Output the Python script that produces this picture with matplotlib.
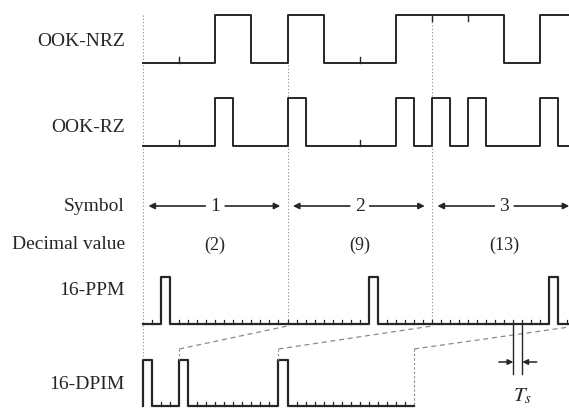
import numpy as np
import matplotlib
matplotlib.use("Agg")
import matplotlib.pyplot as plt

plt.rcParams['font.family'] = ['Liberation Serif', 'DejaVu Serif']
plt.rcParams['mathtext.fontset'] = 'stix'

# data
symbols = ['1', '2', '3']
decimal_values = [2, 9, 13]
ook_bits = [0, 0, 1, 0, 1, 0, 0, 1, 1, 1, 0, 1]
ppm_slots = [2, 9, 13]          # pulse slot inside each 16-slot symbol
dpim_empty = [2, 9, 13]         # empty slots after each DPIM pulse
row_labels = ['OOK-NRZ', 'OOK-RZ', 'Symbol', 'Decimal value', '16-PPM', '16-DPIM']

L = 16                # slots per symbol
BIT = 4               # slots per bit
slot_px = 144.5 / L   # layout: slot width in pixels
x0_px = 143

# layout (pixel rows, axis y inverted)
nrz_hi, nrz_lo = 16, 64
rz_hi, rz_lo = 99, 147
ppm_hi, ppm_lo = 278, 325
dp_hi, dp_lo = 361, 407
sym_y, dec_y = 207, 245
label_y = [42, 128, 207, 245, 291, 385]

ink = '#262626'
grey = '#8a8a8a'

fig = plt.figure(figsize=(5.69, 4.10), dpi=100)
ax = fig.add_axes([0, 0, 1, 1])
ax.set_xlim(-x0_px / slot_px, (569 - x0_px) / slot_px)
ax.set_ylim(410, 0)
ax.axis('off')

n_sym = len(decimal_values)
end = n_sym * L

# symbol boundaries (dotted)
for k in range(n_sym):
    bottom = 357 if k == 0 else ppm_lo
    ax.plot([k * L, k * L], [16, bottom], ls=(0, (1, 2)), color=grey, lw=0.8)

# OOK-NRZ
xb = np.arange(len(ook_bits) + 1) * BIT
yb = [nrz_hi if b else nrz_lo for b in ook_bits]
ax.step(xb, yb + [yb[-1]], where='post', color=ink, lw=1.4)
for i in range(1, len(ook_bits)):
    if ook_bits[i] == ook_bits[i - 1]:
        if ook_bits[i]:
            ax.plot([i * BIT] * 2, [nrz_hi, nrz_hi + 6], color=ink, lw=1.0)
        else:
            ax.plot([i * BIT] * 2, [nrz_lo, nrz_lo - 6], color=ink, lw=1.0)

# OOK-RZ
rz = []
for b in ook_bits:
    rz += [rz_hi if b else rz_lo, rz_lo]
xr = np.arange(len(rz) + 1) * BIT / 2
ax.step(xr, rz + [rz[-1]], where='post', color=ink, lw=1.4)
for i in range(1, len(ook_bits)):
    if ook_bits[i] == 0 and ook_bits[i - 1] == 0:
        ax.plot([i * BIT] * 2, [rz_lo, rz_lo - 6], color=ink, lw=1.0)

# symbol arrows and decimal values
for k, (s, v) in enumerate(zip(symbols, decimal_values)):
    c = k * L + 8
    ax.text(c, sym_y, s, ha='center', va='center', fontsize=14, color=ink)
    ax.text(c, dec_y, '(%d)' % v, ha='center', va='center', fontsize=13, color=ink)
    for a, b in [(c - 1.1, k * L + 0.6), (c + 1.1, k * L + 15.2)]:
        ax.annotate('', xy=(b, sym_y), xytext=(a, sym_y),
                    arrowprops=dict(arrowstyle='-|>', color=ink, lw=1.2,
                                    mutation_scale=9, shrinkA=0, shrinkB=0))

# 16-PPM
ppm = np.zeros(end, dtype=int)
for k, v in enumerate(ppm_slots):
    ppm[k * L + v] = 1
yp = [ppm_hi if p else ppm_lo for p in ppm]
xs = np.arange(end + 1)
ax.step(xs, yp + [yp[-1]], where='post', color=ink, lw=1.6)
for i in range(1, end):
    if ppm[i] == 0 and ppm[i - 1] == 0:
        ax.plot([i, i], [ppm_lo, ppm_lo - 4], color=ink, lw=0.9)

# 16-DPIM (pulse + guard slot + value empty slots)
dpim = []
starts = []
for v in dpim_empty:
    starts.append(len(dpim))
    dpim += [1] + [0] * (v + 1)
yd = [dp_hi if p else dp_lo for p in dpim]
xd = np.concatenate([[0], np.arange(len(dpim) + 1)])
ax.step(xd, [dp_lo] + yd + [yd[-1]], where='post', color=ink, lw=1.6)
for i in range(1, len(dpim)):
    if dpim[i] == 0 and dpim[i - 1] == 0:
        ax.plot([i, i], [dp_lo, dp_lo - 4], color=ink, lw=0.9)

# dashed links DPIM symbol start -> PPM symbol start
link_from = starts[1:] + [len(dpim)]
for k, s0 in enumerate(link_from):
    ax.plot([s0, (k + 1) * L], [350, ppm_lo + 2], ls=(0, (4, 3)), color=grey, lw=0.9)
    low = dp_lo if k == len(link_from) - 1 else dp_hi
    ax.plot([s0, s0], [350, low], ls=(0, (2, 2)), color=grey, lw=0.8)

# T_s marker (one slot)
ts = ppm_slots[-1] - 4 + 2 * L
for xx in (ts, ts + 1):
    ax.plot([xx, xx], [ppm_lo, 375], color=ink, lw=1.0)
ax.annotate('', xy=(ts, 363), xytext=(ts - 1.6, 363),
            arrowprops=dict(arrowstyle='-|>', color=ink, lw=1.1, mutation_scale=8,
                            shrinkA=0, shrinkB=0))
ax.annotate('', xy=(ts + 1, 363), xytext=(ts + 2.6, 363),
            arrowprops=dict(arrowstyle='-|>', color=ink, lw=1.1, mutation_scale=8,
                            shrinkA=0, shrinkB=0))
ax.text(ts + 1, 396, '$T_s$', ha='center', va='center', fontsize=15, color=ink)

# row labels
for lab, y in zip(row_labels, label_y):
    ax.text(-2.0, y, lab, ha='right', va='center', fontsize=14, color=ink)

fig.savefig('out.png', dpi=100)
